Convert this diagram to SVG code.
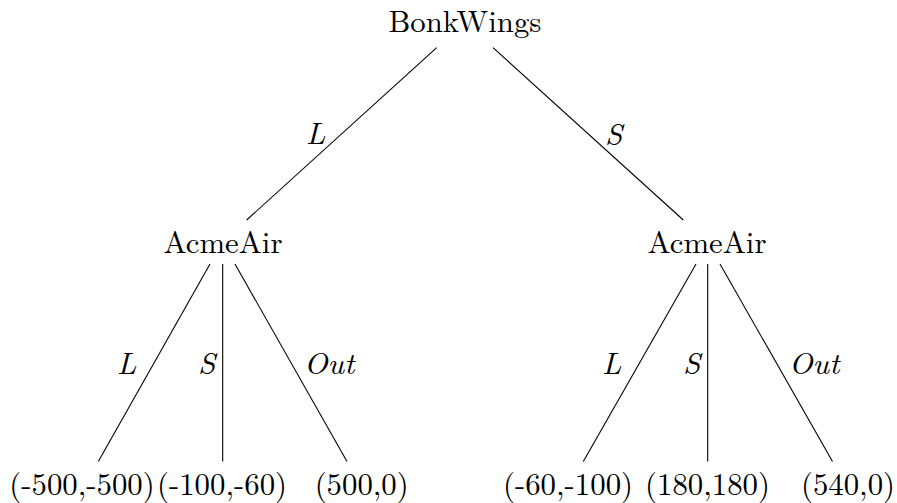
<svg xmlns="http://www.w3.org/2000/svg" width="897" height="503" viewBox="0 0 897 503" font-family="Latin Modern Roman, Liberation Serif, serif" font-size="30.8">
<style>
.edges line{stroke:#000;stroke-width:1.1}
</style>
<rect width="897" height="503" fill="#fff"/>
<g class="edges" id="connectors">
<line x1="436.7" y1="47.7" x2="246.7" y2="220"/>
<line x1="493" y1="47.7" x2="683.3" y2="220"/>
<line x1="210" y1="264" x2="98.3" y2="461.5"/>
<line x1="222.7" y1="264" x2="222.7" y2="461.5"/>
<line x1="235" y1="264" x2="347" y2="461.5"/>
<line x1="696" y1="264" x2="583.3" y2="461.5"/>
<line x1="707.7" y1="264" x2="707.7" y2="461.5"/>
<line x1="720" y1="264" x2="832.5" y2="461.5"/>
<g font-style="italic">
<text x="306" y="144">L</text>
<text x="605" y="145">S</text>
<text x="117" y="374">L</text>
<text x="198" y="374">S</text>
<text x="304" y="374">Out</text>
<text x="602" y="374">L</text>
<text x="683" y="374">S</text>
<text x="789" y="374">Out</text>
</g>
</g>
<g text-anchor="middle">
<g id="root"><text x="465" y="32">BonkWings</text></g>
<g id="acme-left"><text x="223" y="253">AcmeAir</text></g>
<g id="acme-right"><text x="707" y="253">AcmeAir</text></g>
<g id="leaf-ll"><text x="82" y="495">(-500,-500)</text></g>
<g id="leaf-ls"><text x="222" y="495">(-100,-60)</text></g>
<g id="leaf-lo"><text x="361.7" y="495">(500,0)</text></g>
<g id="leaf-rl"><text x="568" y="495">(-60,-100)</text></g>
<g id="leaf-rs"><text x="707.5" y="495">(180,180)</text></g>
<g id="leaf-ro"><text x="848" y="495">(540,0)</text></g>
</g>
</svg>
